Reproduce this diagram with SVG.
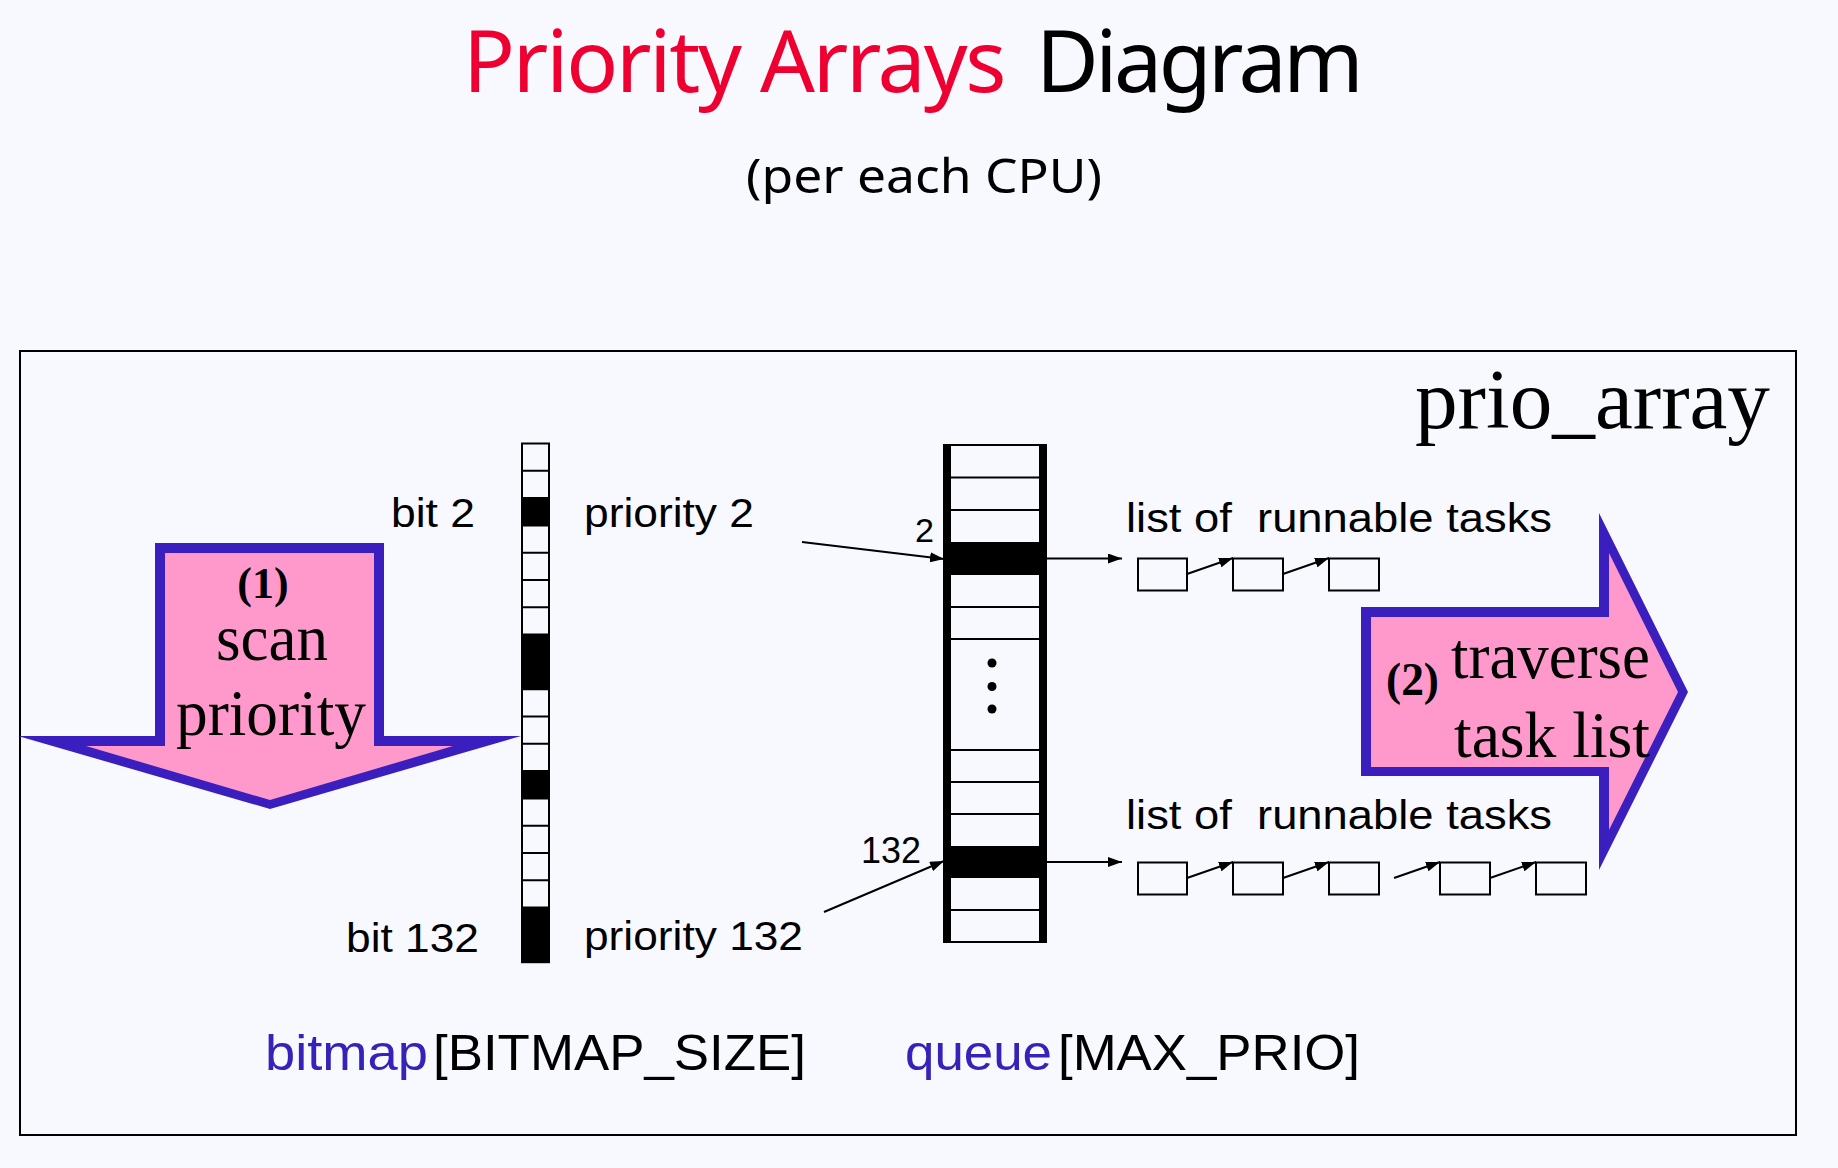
<svg xmlns="http://www.w3.org/2000/svg" width="1838" height="1168" viewBox="0 0 1838 1168">
<defs>
<style>
.bg{fill:#F8F9FE}
.sans{font-family:"Liberation Sans",Arial,sans-serif;fill:#000}
.title{font-family:"Noto Sans","Open Sans",sans-serif}
.serif{font-family:"Liberation Serif","Times New Roman",serif;fill:#000}
.bold{font-weight:bold}
.cell{fill:none;stroke:#000;stroke-width:2}
.blk{fill:#000}
.line{stroke:#000;stroke-width:2;fill:none}
.conn{stroke:#000;stroke-width:2;fill:none;marker-end:url(#ah)}
.task{fill:none;stroke:#000;stroke-width:2}
.arrowOuter{fill:#3A1EBE}
.arrowInner{fill:#FF99CC}
.blue{fill:#3522B8}
.pre{white-space:pre}
</style>
<marker id="ah" markerUnits="userSpaceOnUse" markerWidth="14" markerHeight="10" refX="14" refY="5" orient="auto">
<path d="M0,0 L14,5 L0,10 z" fill="#000"/>
</marker>
</defs>
<rect class="bg" x="0" y="0" width="1838" height="1168"/>

<g id="title">
<text class="title" x="463" y="92" font-size="86" letter-spacing="-2.2" fill="#EE0030">Priority Arrays</text>
<text class="title" x="1036" y="92" font-size="86" letter-spacing="-3.5" fill="#000">Diagram</text>
<text class="title" x="746" y="193" font-size="48" fill="#000" textLength="356" lengthAdjust="spacingAndGlyphs">(per each CPU)</text>
</g>

<g id="prio_array">
<rect x="20" y="351" width="1776" height="784" fill="none" stroke="#000" stroke-width="2"/>
<text class="serif" x="1415" y="428" font-size="85" textLength="355" lengthAdjust="spacingAndGlyphs">prio_array</text>
</g>

<g id="scan-arrow">
<polygon class="arrowOuter" points="155,543 384,543 384,736 521,736 270,809 18,736 155,736"/>
<polygon class="arrowInner" points="165,553 374,553 374,746 453,746 270,800 86,746 165,746"/>
<text class="serif bold" x="263" y="598" font-size="44" text-anchor="middle">(1)</text>
<text class="serif" x="216" y="660" font-size="66" textLength="112" lengthAdjust="spacingAndGlyphs">scan</text>
<text class="serif" x="176" y="735" font-size="66" textLength="190" lengthAdjust="spacingAndGlyphs">priority</text>
</g>

<g id="bitmap">
<rect class="blk" x="522" y="498.1" width="27" height="27.3"/>
<rect class="blk" x="522" y="634.6" width="27" height="54.6"/>
<rect class="blk" x="522" y="771.1" width="27" height="27.3"/>
<rect class="blk" x="522" y="907.6" width="27" height="54.6"/>
<rect class="cell" x="522" y="443.5" width="27" height="518.7"/>
<path class="line" d="M522,470.8H549 M522,498.1H549 M522,525.4H549 M522,552.7H549 M522,580H549 M522,607.3H549 M522,634.6H549 M522,661.9H549 M522,689.2H549 M522,716.5H549 M522,743.8H549 M522,771.1H549 M522,798.4H549 M522,825.7H549 M522,853H549 M522,880.3H549 M522,907.6H549 M522,934.9H549"/>
<text class="sans" x="391" y="527" font-size="40" textLength="84" lengthAdjust="spacingAndGlyphs">bit 2</text>
<text class="sans" x="346" y="952" font-size="40" textLength="133" lengthAdjust="spacingAndGlyphs">bit 132</text>
<text class="sans" x="584" y="527" font-size="40" textLength="170" lengthAdjust="spacingAndGlyphs">priority 2</text>
<text class="sans" x="584" y="950" font-size="40" textLength="219" lengthAdjust="spacingAndGlyphs">priority 132</text>
<text class="sans blue" x="265" y="1070" font-size="50" textLength="163" lengthAdjust="spacingAndGlyphs">bitmap</text>
<text class="sans" x="433" y="1070" font-size="50" textLength="373" lengthAdjust="spacingAndGlyphs">[BITMAP_SIZE]</text>
</g>

<g id="queue">
<rect class="blk" x="943" y="542" width="104" height="33"/>
<rect class="blk" x="943" y="846" width="104" height="32"/>
<path class="line" d="M947,445H1043 M947,477.5H1043 M947,510H1043 M947,607H1043 M947,639H1043 M947,750H1043 M947,782H1043 M947,814H1043 M947,910H1043 M947,942H1043"/>
<rect class="blk" x="943" y="444" width="8" height="499"/>
<rect class="blk" x="1039" y="444" width="8" height="499"/>
<circle cx="992" cy="663" r="4.5" fill="#000"/>
<circle cx="992" cy="686.5" r="4.5" fill="#000"/>
<circle cx="992" cy="709" r="4.5" fill="#000"/>
<text class="sans" x="915" y="542" font-size="34" textLength="19" lengthAdjust="spacingAndGlyphs">2</text>
<text class="sans" x="861" y="863" font-size="36" textLength="60" lengthAdjust="spacingAndGlyphs">132</text>
<text class="sans blue" x="905" y="1070" font-size="50" textLength="147" lengthAdjust="spacingAndGlyphs">queue</text>
<text class="sans" x="1058" y="1070" font-size="50" textLength="302" lengthAdjust="spacingAndGlyphs">[MAX_PRIO]</text>
</g>

<g id="tasks-2">
<text class="sans pre" x="1126" y="532" font-size="41" textLength="426" lengthAdjust="spacingAndGlyphs">list of  runnable tasks</text>
<rect class="task" x="1138" y="558.5" width="49" height="32"/>
<rect class="task" x="1233" y="558.5" width="50" height="32"/>
<rect class="task" x="1329" y="558.5" width="50" height="32"/>
</g>

<g id="tasks-132">
<text class="sans pre" x="1126" y="829" font-size="41" textLength="426" lengthAdjust="spacingAndGlyphs">list of  runnable tasks</text>
<rect class="task" x="1138" y="862.5" width="49" height="32"/>
<rect class="task" x="1233" y="862.5" width="50" height="32"/>
<rect class="task" x="1329" y="862.5" width="50" height="32"/>
<rect class="task" x="1440" y="862.5" width="50" height="32"/>
<rect class="task" x="1536" y="862.5" width="50" height="32"/>
</g>

<g id="traverse-arrow">
<polygon class="arrowOuter" points="1361,607 1599,607 1599,513 1688,692 1599,870 1599,776 1361,776"/>
<polygon class="arrowInner" points="1371,617 1609,617 1609,553 1678,692 1609,830 1609,767 1371,767"/>
<text class="serif bold" x="1386" y="695" font-size="46" textLength="53" lengthAdjust="spacingAndGlyphs">(2)</text>
<text class="serif" x="1451" y="678" font-size="66" textLength="199" lengthAdjust="spacingAndGlyphs">traverse</text>
<text class="serif" x="1454" y="757" font-size="66" textLength="196" lengthAdjust="spacingAndGlyphs">task list</text>
</g>

<g id="connectors">
<line class="conn" x1="802" y1="542" x2="944" y2="559"/>
<line class="conn" x1="824" y1="912" x2="944" y2="861"/>
<line class="conn" x1="1047" y1="558.5" x2="1122" y2="558.5"/>
<line class="conn" x1="1047" y1="862" x2="1122" y2="862"/>
<line class="conn" x1="1187" y1="574" x2="1233" y2="558"/>
<line class="conn" x1="1283" y1="574" x2="1329" y2="558"/>
<line class="conn" x1="1187" y1="878" x2="1233" y2="862"/>
<line class="conn" x1="1283" y1="878" x2="1329" y2="862"/>
<line class="conn" x1="1394" y1="878" x2="1440" y2="862"/>
<line class="conn" x1="1490" y1="878" x2="1536" y2="862"/>
</g>
</svg>
